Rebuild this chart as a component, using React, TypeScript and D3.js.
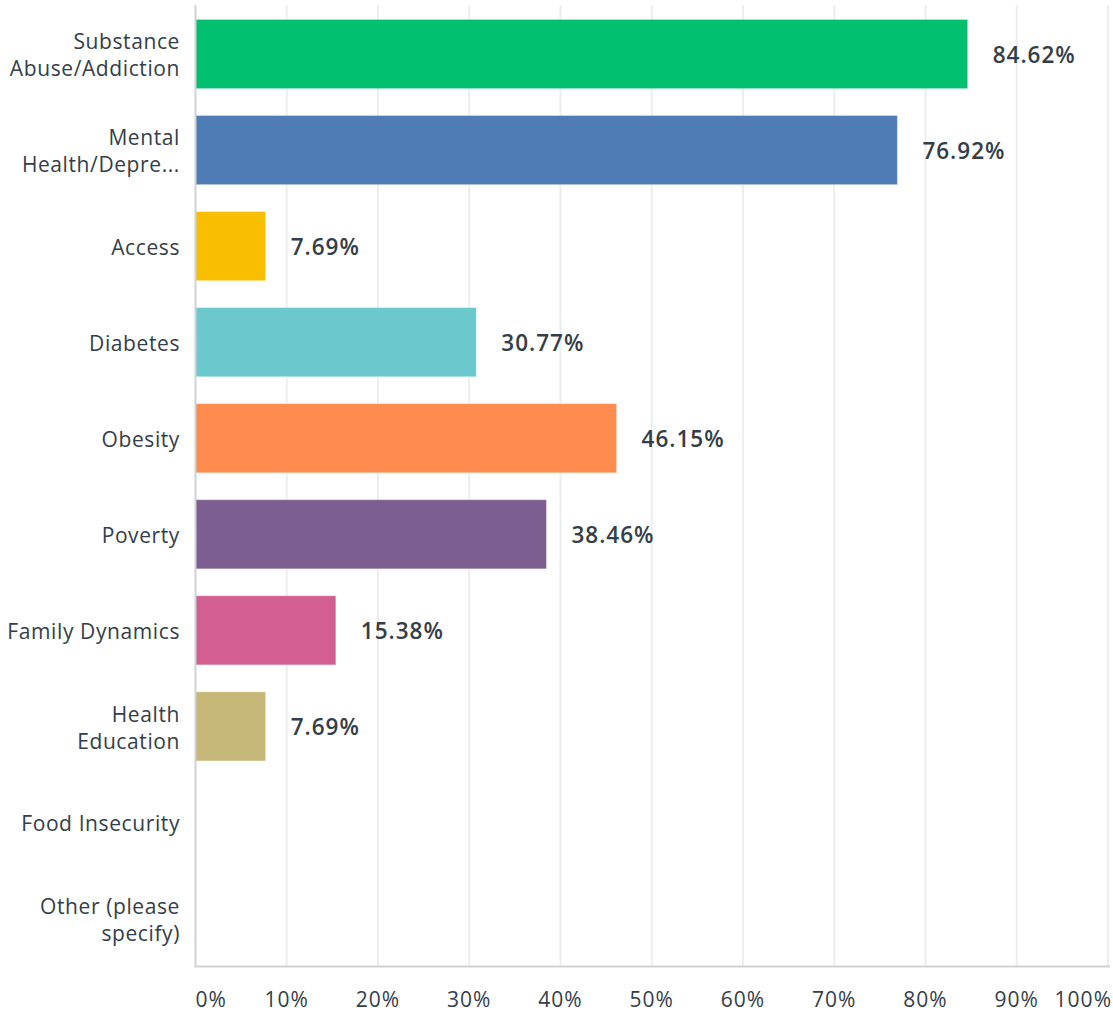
import React from "react";
import * as d3 from "d3";

const categories: string[][] = [
  ["Substance", "Abuse/Addiction"],
  ["Mental", "Health/Depre..."],
  ["Access"],
  ["Diabetes"],
  ["Obesity"],
  ["Poverty"],
  ["Family Dynamics"],
  ["Health", "Education"],
  ["Food Insecurity"],
  ["Other (please", "specify)"],
];
const values: number[] = [84.62, 76.92, 7.69, 30.77, 46.15, 38.46, 15.38, 7.69, 0, 0];
const colors: string[] = [
  "#00BF6F", "#507CB6", "#F9BE00", "#6BC8CD", "#FF8B4F",
  "#7D5E90", "#D25F90", "#C7B879", "#AAAAAA", "#888888",
];
const ticks: number[] = [0, 10, 20, 30, 40, 50, 60, 70, 80, 90, 100];

const W = 1113;
const H = 1015;
const left = 195.5;
const right = 1108;
const top = 6;
const bottom = 966.5;
const font = "'Open Sans', 'Noto Sans', sans-serif";
const textColor = "#333E48";

export default function App() {
  const x = d3.scaleLinear().domain([0, 100]).range([left, right]);
  const y = d3
    .scaleBand<number>()
    .domain(d3.range(categories.length))
    .range([top, bottom])
    .paddingInner(0.28)
    .paddingOuter(0.14);

  return (
    <svg
      width={W}
      height={H}
      style={{ position: "absolute", left: 0, top: 0, background: "#fff" }}
    >
      {ticks.slice(1).map((t) => (
        <line
          key={"g" + t}
          x1={x(t)}
          x2={x(t)}
          y1={top - 1}
          y2={bottom}
          stroke="#EDEEEE"
          strokeWidth={2}
        />
      ))}
      {values.map((v, i) =>
        v > 0 ? (
          <rect
            key={"b" + i}
            x={x(0)}
            y={y(i)!}
            width={x(v) - x(0)}
            height={y.bandwidth()}
            fill={colors[i]}
            stroke="#ffffff"
            strokeOpacity={0.35}
            strokeWidth={1}
          />
        ) : null
      )}
      <line x1={left} x2={left} y1={top - 1} y2={bottom} stroke="#D0D2D3" strokeWidth={2} />
      <line x1={left - 1} x2={right + 2} y1={bottom} y2={bottom} stroke="#D0D2D3" strokeWidth={2} />
      {values.map((v, i) =>
        v > 0 ? (
          <text
            key={"v" + i}
            x={x(v) + 25}
            y={y(i)! + y.bandwidth() / 2}
            dy="0.38em"
            fontFamily={font}
            fontSize={22.5}
            fontWeight={600}
            letterSpacing={1}
            fill={textColor}
          >
            {v.toFixed(2) + "%"}
          </text>
        ) : null
      )}
      {categories.map((lines, i) => {
        const cy = y(i)! + y.bandwidth() / 2;
        const lh = 27;
        const start = cy - ((lines.length - 1) * lh) / 2 + 1.5;
        return (
          <text
            key={"c" + i}
            textAnchor="end"
            fontFamily={font}
            fontSize={21}
            letterSpacing={0.6}
            fill={textColor}
          >
            {lines.map((l, j) => (
              <tspan key={j} x={180} y={start + j * lh} dy="0.35em">
                {l}
              </tspan>
            ))}
          </text>
        );
      })}
      {ticks.map((t, i) => (
        <text
          key={"t" + t}
          x={i === 0 ? left : i === ticks.length - 1 ? right + 4 : x(t)}
          y={1000}
          dy="0.35em"
          textAnchor={i === 0 ? "start" : i === ticks.length - 1 ? "end" : "middle"}
          fontFamily={font}
          fontSize={21}
          letterSpacing={1}
          fill={textColor}
        >
          {t + "%"}
        </text>
      ))}
    </svg>
  );
}
